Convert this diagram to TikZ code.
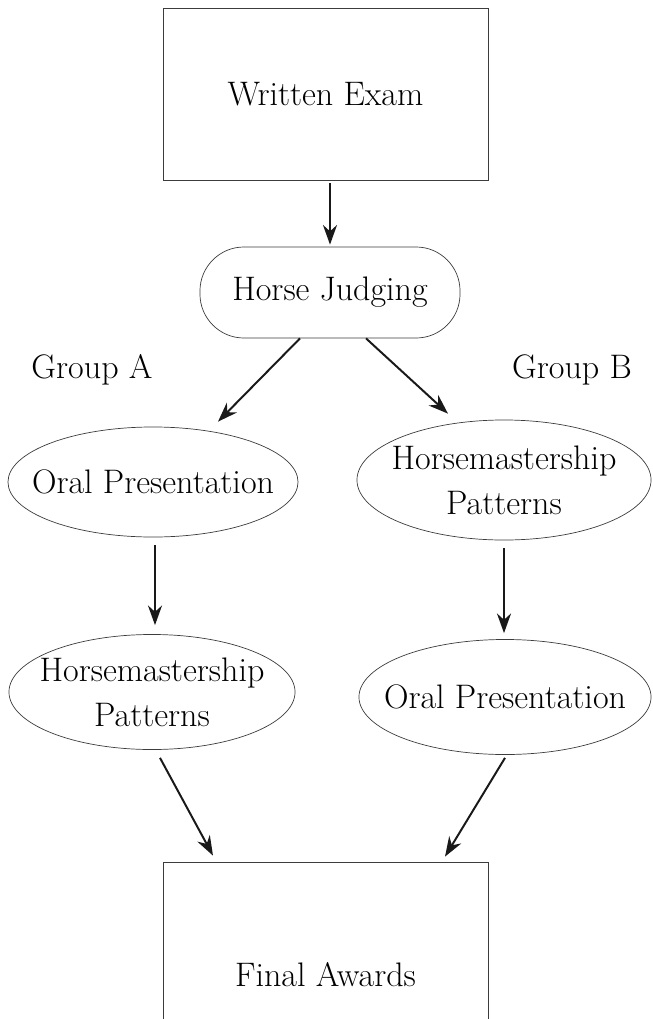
\documentclass[tikz,border=0pt]{standalone}
\usepackage{fontspec}
\usetikzlibrary{arrows.meta}
\usetikzlibrary{calc}
\usetikzlibrary{shapes.geometric}
\tikzset{>={Stealth[length=14pt,width=10pt]}}
\definecolor{framegray}{RGB}{60,60,60}
\tikzstyle{frameline}=[draw=framegray,line width=0.5pt]
\tikzstyle{stagebox}=[frameline,rectangle,minimum width=8.125cm,inner sep=0pt]
\tikzstyle{roundbox}=[frameline,rectangle,rounded corners=1.1cm,minimum width=6.5cm,minimum height=2.275cm]
\tikzstyle{oval}=[frameline,ellipse,inner sep=-2cm,align=center]
\tikzstyle{flow}=[->,line width=1.4pt,draw=black!90]

\begin{document}
\begin{tikzpicture}[x=0.025cm,y=-0.025cm,font=\fontsize{24.2}{32}\selectfont]
  \useasboundingbox (0,0) rectangle (652,1019);

  \node[stagebox,minimum height=4.3cm] (exam) at (325.5,94) {Written Exam};
  \node[roundbox] (judge) at (330,292.5) {Horse Judging};

  \node (grpA) at (92,370) {Group A};
  \node (grpB) at (572,370) {Group B};

  \node[oval,minimum width=7.25cm,minimum height=2.75cm] (oralA) at (153,482) {Oral Presentation};
  \node[oval,minimum width=7.35cm,minimum height=3cm] (horseB) at (504,480) {Horsemastership\\Patterns};
  \node[oval,minimum width=7.15cm,minimum height=2.875cm] (horseA) at (152,692) {Horsemastership\\Patterns};
  \node[oval,minimum width=7.3cm,minimum height=2.875cm] (oralB) at (505,697) {Oral Presentation};

  \begin{scope}
    \clip (0,0) rectangle (652,1019);
    \node[stagebox,minimum height=5.65cm] (awards) at (325.5,975) {Final Awards};
  \end{scope}

  \draw[flow] ($(judge.north |- exam.south)+(0,3)$) -- ($(judge.north)+(0,-2)$);
  \draw[flow] ($(judge.south)+(-30,0)$) -- ($(oralA.north)+(65,-5)$);
  \draw[flow] ($(judge.south)+(36,0)$) -- ($(horseB.north)+(-56,-6)$);
  \draw[flow] ($(oralA.south)+(2,8)$) -- ($(horseA.north)+(3,-9)$);
  \draw[flow] ($(horseB.south)+(0,8)$) -- ($(oralB.north)+(-1,-6)$);
  \draw[flow] ($(horseA.south)+(8,8)$) -- ($(awards.north)+(-112.5,-6)$);
  \draw[flow] ($(oralB.south)+(0,3)$) -- ($(awards.north)+(119.5,-5)$);

\end{tikzpicture}
\end{document}
